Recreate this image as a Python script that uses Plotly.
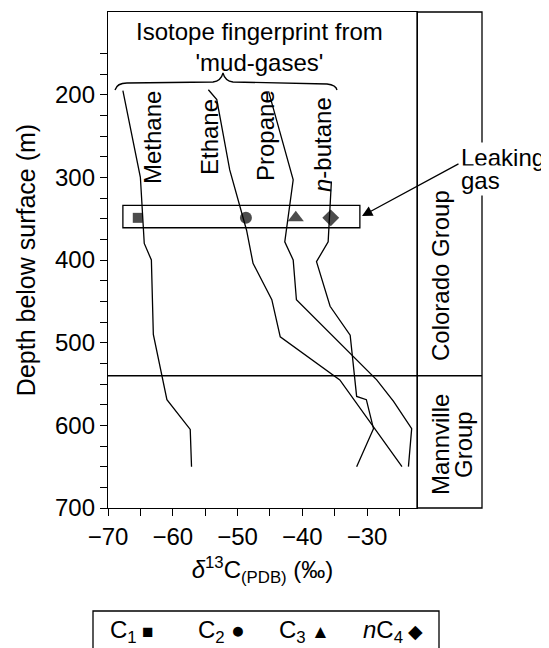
import plotly.graph_objects as go

# ---------------- data ----------------
depth_methane = [195, 300, 380, 400, 490, 545, 569, 605, 650]
d13c_methane = [-67.7, -65.0, -64.4, -63.3, -63.0, -61.5, -60.9, -57.3, -57.1]

depth_ethane = [194, 206, 291, 364, 404, 448, 493, 545, 650]
d13c_ethane = [-54.5, -53.2, -51.2, -48.6, -47.6, -44.7, -43.4, -34.2, -24.6]

depth_propane = [196, 303, 378, 400, 448, 545, 571, 604, 650]
d13c_propane = [-45.2, -41.4, -42.7, -41.4, -40.9, -28.5, -25.9, -23.1, -23.6]

depth_nbutane = [305, 378, 402, 456, 491, 541, 565, 569, 604, 650]
d13c_nbutane = [-35.5, -36.0, -37.8, -35.7, -32.6, -31.9, -31.6, -30.1, -29.0, -31.6]

gas_names = ["Methane", "Ethane", "Propane", "<i>n</i>-butane"]

leak_d13c = [-65.4, -48.7, -41.0, -35.6]
leak_depth = [349, 349, 349, 349]
leak_symbols = ["square", "circle", "triangle-up", "diamond"]
leak_box_x = [-67.7, -31.1]
leak_box_depth = [334, 361]

legend_labels = ["C<sub>1</sub>", "C<sub>2</sub>", "C<sub>3</sub>", "<i>n</i>C<sub>4</sub>"]
legend_glyphs = ["■", "●", "▲", "◆"]

boundary_depth = 540
group_names = ["Colorado Group", "Mannville<br>Group"]
leak_label = "Leaking<br>gas"
header = "Isotope fingerprint from<br>'mud-gases'"

x_ticks = [-70, -60, -50, -40, -30]
x_minor = [-65, -55, -45, -35, -25]
y_ticks = [200, 300, 400, 500, 600, 700]
y_minor = [150, 175, 225, 250, 275, 325, 350, 375, 425, 450, 475, 525, 550, 575, 625, 650, 675]

# ---------------- geometry (page pixel coords; body has 8px margin) ----------------
OFF = 8
PW, PH = 549, 648
PL, PR, PT, PB = 108, 482, 12, 508   # plot (incl. group column) edges in page px
AX_R = 417                           # right edge of data area
plot_w = PR - PL
plot_h = PB - PT
xdom_end = (AX_R - PL) / plot_w
x_range = [-70, -70 + (AX_R - PL) / 6.475]
y_range = [700, 100]

W, H = PW - OFF, PH - OFF
L, T = PL - OFF, PT - OFF
R, B = W - (PR - OFF), H - (PB - OFF)

def px2x(px):
    return x_range[0] + (px - PL) / (AX_R - PL) * (x_range[1] - x_range[0])

def py2y(py):
    return y_range[1] + (py - PT) / plot_h * (y_range[0] - y_range[1])

def px2p(px):
    return (px - PL) / plot_w

def py2p(py):
    return (PB - py) / plot_h

FONT = "Liberation Sans, Arial, Helvetica, sans-serif"
FS = 24
LW = 1.3

fig = go.Figure()
for xs, ds in [(d13c_methane, depth_methane), (d13c_ethane, depth_ethane),
               (d13c_propane, depth_propane), (d13c_nbutane, depth_nbutane)]:
    fig.add_trace(go.Scatter(x=xs, y=ds, mode="lines",
                             line=dict(color="black", width=LW), hoverinfo="skip"))

fig.add_trace(go.Scatter(x=leak_d13c, y=leak_depth, mode="markers",
                         marker=dict(symbol=leak_symbols, size=[10, 12, 14, 13], color="black",
                                     line=dict(width=0)),
                         hoverinfo="skip"))

shapes = []
shapes.append(dict(type="rect", xref="x", yref="y", x0=leak_box_x[0], x1=leak_box_x[1],
                   y0=leak_box_depth[0], y1=leak_box_depth[1], line=dict(color="black", width=LW)))
shapes.append(dict(type="rect", xref="paper", yref="paper", x0=xdom_end, x1=1, y0=0, y1=1,
                   line=dict(color="black", width=LW), layer="below"))
shapes.append(dict(type="line", xref="paper", yref="y", x0=0, x1=1, y0=boundary_depth, y1=boundary_depth,
                   line=dict(color="black", width=LW)))
bp = [(115, 90), (117, 83), (127, 83), (213, 82), (221, 81), (223, 73), (225, 81), (233, 82),
      (327, 84), (336, 85), (337, 90)]
c = [(px2x(a), py2y(b)) for a, b in bp]
path = (f"M {c[0][0]},{c[0][1]} Q {c[1][0]},{c[1][1]} {c[2][0]},{c[2][1]} "
        f"L {c[3][0]},{c[3][1]} Q {c[4][0]},{c[4][1]} {c[5][0]},{c[5][1]} "
        f"Q {c[6][0]},{c[6][1]} {c[7][0]},{c[7][1]} L {c[8][0]},{c[8][1]} "
        f"Q {c[9][0]},{c[9][1]} {c[10][0]},{c[10][1]}")
shapes.append(dict(type="path", xref="x", yref="y", path=path, line=dict(color="black", width=LW)))
shapes.append(dict(type="rect", xref="paper", yref="paper", x0=px2p(93), x1=px2p(439),
                   y0=py2p(665), y1=py2p(611), line=dict(color="black", width=LW)))

ann = []
def A(**kw):
    base = dict(showarrow=False, xanchor="center", yanchor="middle", font=dict(size=FS))
    base.update(kw)
    ann.append(base)

A(x=px2x(259), y=py2y(47), xref="x", yref="y", text=header)
name_pos = [(152, 138), (209, 137), (265, 136), (322, 145)]
for nm, (a, b) in zip(gas_names, name_pos):
    A(x=px2x(a), y=py2y(b), xref="x", yref="y", text=nm, textangle=-90)
ann.append(dict(x=px2x(362), y=py2y(216), xref="x", yref="y", ax=98, ay=-53, text="",
                showarrow=True, arrowhead=2, arrowsize=1.6, arrowwidth=LW, arrowcolor="black"))
for i, part in enumerate(leak_label.split("<br>")):
    A(x=px2p(459), y=py2p(158 + 22 * i), xref="paper", yref="paper",
      xanchor="left", align="left", text=part, bgcolor="white", borderpad=1)
A(x=px2p(440), y=py2p(276), xref="paper", yref="paper", text=group_names[0], textangle=-90)
for i, part in enumerate(group_names[1].split("<br>")):
    A(x=px2p(440 + 23 * i), y=py2p(445), xref="paper", yref="paper", text=part, textangle=-90)
leg_x = [131, 221, 304, 393]
glyph_px = [19, 23, 19, 19]
for lab, g, a, gs in zip(legend_labels, legend_glyphs, leg_x, glyph_px):
    A(x=px2p(a), y=py2p(631), xref="paper", yref="paper",
      text=f"{lab}<span style='font-size:{gs}px'> {g}</span>")

fig.update_layout(
    width=W, height=H, margin=dict(l=L, r=R, t=T, b=B),
    plot_bgcolor="white", paper_bgcolor="white", showlegend=False,
    font=dict(family=FONT, color="black", size=FS),
    shapes=shapes, annotations=ann,
    xaxis=dict(domain=[0, xdom_end], range=x_range, tickvals=x_ticks, ticks="outside",
               ticklen=7, tickwidth=LW, tickcolor="black", showline=True, linecolor="black",
               linewidth=LW, mirror=True, showgrid=False, zeroline=False,
               tickfont=dict(size=FS),
               minor=dict(tickvals=x_minor, ticks="outside", ticklen=7, tickwidth=LW, tickcolor="black"),
               title=dict(text="<i>δ</i><sup>13</sup>C<sub>(PDB)</sub> (‰)", font=dict(size=FS), standoff=12)),
    yaxis=dict(range=y_range, tickvals=y_ticks, ticks="outside", ticklen=7, tickwidth=LW,
               tickcolor="black", showline=True, linecolor="black", linewidth=LW, mirror=True,
               showgrid=False, zeroline=False, tickfont=dict(size=FS),
               minor=dict(tickvals=y_minor, ticks="outside", ticklen=7, tickwidth=LW, tickcolor="black"),
               title=dict(text="Depth below surface (m)", font=dict(size=25), standoff=12)),
)

fig.write_html("out.html")
